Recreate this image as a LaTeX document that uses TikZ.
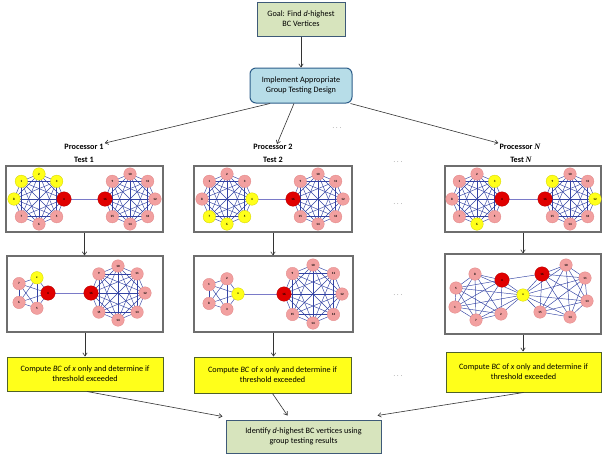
\documentclass[tikz,border=0pt]{standalone}
\usepackage{fontspec}
\setmainfont{Carlito}
\newfontfamily\serifn{Liberation Serif}
\usetikzlibrary{arrows.meta}
\pgfdeclarelayer{bg}
\pgfsetlayers{bg,main}
\definecolor{pinkn}{HTML}{F2A0A0}
\definecolor{pinkb}{HTML}{E08585}
\definecolor{yelln}{HTML}{FFFF1A}
\definecolor{yellb}{HTML}{D0D000}
\definecolor{redn}{HTML}{E00000}
\definecolor{redb}{HTML}{B00000}
\definecolor{edgec}{HTML}{3343A3}
\definecolor{bridgec}{HTML}{7A7AC8}
\definecolor{gfill}{HTML}{D7E4BD}
\definecolor{gbord}{HTML}{3E5A78}
\definecolor{bfill}{HTML}{B7DDE8}
\definecolor{bbord}{HTML}{2E5E8A}
\definecolor{ybord}{HTML}{4F6228}
\definecolor{framec}{HTML}{6E6E6E}
\newcommand\octgraph[5]{%
  \foreach \i/\l/\a/\s in {#5} \path (#2,#3) ++(-\a:#4) node[\s] (#1\i) {\l};}
\newcommand\mkclique[2]{%
  \begin{pgfonlayer}{bg}
  \foreach \i in {1,...,#2}{\foreach \j in {1,...,#2}{\ifnum\i<\j \draw[ed] (#1\i.center) -- (#1\j.center);\fi}}
  \end{pgfonlayer}}
\tikzset{
  vtx/.style={circle,inner sep=0pt,minimum size=12.5pt,font=\fontsize{3.2}{3.2}\selectfont\bfseries,line width=0.3pt},
  pk/.style={vtx,fill=pinkn,draw=pinkb},
  yl/.style={vtx,fill=yelln,draw=yellb},
  rd/.style={vtx,fill=redn,draw=redb,minimum size=14.5pt},
  ed/.style={edgec,line width=0.45pt},
  bridge/.style={bridgec,line width=0.7pt},
  txt/.style={font=\fontsize{8.2}{10}\selectfont,align=center,inner sep=0pt},
  gbox/.style={txt,draw=gbord,fill=gfill,line width=1pt},
  ybox/.style={txt,draw=ybord,fill=yelln,line width=1pt},
  frm/.style={draw=framec,line width=1.1pt,inner sep=0pt},
  lab/.style={font=\fontsize{8.2}{10}\selectfont\bfseries,inner sep=1pt},
  dots/.style={font=\fontsize{6}{6}\selectfont,text=black!60,inner sep=0pt},
  arr/.style={-{Straight Barb[length=3.2pt,width=4.5pt]},line width=0.6pt,draw=black!80},
}
\begin{document}
\begin{tikzpicture}[x=1pt,y=-1pt]
\useasboundingbox (0,0) rectangle (602,459);
% top boxes
\node[gbox,minimum width=88pt,minimum height=34pt] (goal) at (301,19) {Goal: Find \textit{d}-highest\\BC Vertices};
\node[txt,draw=bbord,fill=bfill,line width=1pt,rounded corners=6pt,minimum width=102pt,minimum height=35pt] (impl) at (301,85.5) {Implement Appropriate\\Group Testing Design};
\draw[arr] (goal.south) -- (impl.north);
% processor labels
\node[lab] (p1) at (84,147) {Processor 1};
\node[lab] (t1) at (84,160) {Test 1};
\node[lab] (p2) at (273,147) {Processor 2};
\node[lab] (t2) at (273,160) {Test 2};
\node[lab] (pN) at (520,147) {Processor {\serifn\itshape N}};
\node[lab] (tN) at (521,160) {Test {\serifn\itshape N}};
\draw[arr] ([xshift=-31pt]impl.south) -- (p1.north east);
\draw[arr] ([xshift=-7pt]impl.south) -- ([xshift=4pt,yshift=-1pt]p2.north);
\draw[arr] ([xshift=-2pt]impl.south east) -- (pN.north west);
% dots
\node[dots] (d0) at (337,128) {.\,\,.\,\,.};
\node[dots] (d1) at (398,162) {.\,\,.\,\,.};
\node[dots] (d2) at (398,204) {.\,\,.\,\,.};
\node[dots] (d3) at (398,295) {.\,\,.\,\,.};
\node[dots] (d4) at (398,376) {.\,\,.\,\,.};
% frames
\node[frm,minimum width=157pt,minimum height=66pt] (f11) at (84.5,199) {};
\node[frm,minimum width=158pt,minimum height=66pt] (f12) at (273,199) {};
\node[frm,minimum width=156pt,minimum height=66pt] (f13) at (523,199) {};
\node[frm,minimum width=156pt,minimum height=76pt] (f21) at (85,294) {};
\node[frm,minimum width=159pt,minimum height=76pt] (f22) at (273.5,294) {};
\node[frm,minimum width=156pt,minimum height=80pt] (f23) at (523,294) {};
% yellow boxes
\node[ybox,minimum width=156pt,minimum height=34pt] (y1) at (85,374) {Compute \textit{BC} of \textit{x} only and determine if\\threshold exceeded};
\node[ybox,minimum width=157pt,minimum height=36pt] (y2) at (272.5,375) {Compute \textit{BC} of \textit{x} only and determine if\\threshold exceeded};
\node[ybox,minimum width=155pt,minimum height=40pt] (y3) at (523.5,372) {Compute \textit{BC} of \textit{x} only and determine if\\threshold exceeded};
\node[gbox,minimum width=155pt,minimum height=33pt] (fin) at (303.5,436.5) {Identify \textit{d}-highest BC vertices using\\group testing results};
% vertical arrows
\draw[arr] (f11.south) -- (f11.south |- f21.north);
\draw[arr] (f12.south) -- (f12.south |- f22.north);
\draw[arr] (f13.south) -- (f13.south |- f23.north);
\draw[arr] (f21.south) -- (f21.south |- y1.north);
\draw[arr] (f22.south) -- (f22.south |- y2.north);
\draw[arr] (f23.south) -- (f23.south |- y3.north);
\draw[arr] ([xshift=2pt]y1.south) -- ([xshift=-3pt,yshift=3pt]fin.north west);
\draw[arr] (y2.south) -- ([xshift=-16pt,yshift=4pt]fin.north);
\draw[arr] (y3.south) -- ([xshift=-4pt,yshift=4pt]fin.north east);
% ---------- graphs row 1 ----------
\octgraph{Aa}{39}{199}{25}{1/1/135/yl,2/2/90/yl,3/3/45/yl,4/4/0/rd,5/5/315/pk,6/6/270/pk,7/7/225/pk,8/8/180/yl}
\octgraph{Ab}{130}{199}{25}{1/9/135/pk,2/10/90/pk,3/11/45/pk,4/12/0/pk,5/13/315/pk,6/14/270/pk,7/15/225/pk,8/16/180/rd}
\mkclique{Aa}{8}\mkclique{Ab}{8}
\begin{pgfonlayer}{bg}\draw[bridge] (Aa4.center) -- (Ab8.center);\end{pgfonlayer}
\octgraph{Ba}{227}{199}{25}{1/1/135/pk,2/2/90/pk,3/3/45/pk,4/4/0/yl,5/5/315/yl,6/6/270/yl,7/7/225/yl,8/8/180/pk}
\octgraph{Bb}{318}{199}{25}{1/9/135/pk,2/10/90/pk,3/11/45/pk,4/12/0/pk,5/13/315/pk,6/14/270/pk,7/15/225/pk,8/16/180/rd}
\mkclique{Ba}{8}\mkclique{Bb}{8}
\begin{pgfonlayer}{bg}\draw[bridge] (Ba4.center) -- (Bb8.center);\end{pgfonlayer}
\octgraph{Ca}{477}{199}{25}{1/1/135/pk,2/2/90/pk,3/3/45/yl,4/4/0/rd,5/5/315/pk,6/6/270/yl,7/7/225/pk,8/8/180/pk}
\octgraph{Cb}{570}{199}{25}{1/9/135/yl,2/10/90/pk,3/11/45/pk,4/12/0/yl,5/13/315/pk,6/14/270/pk,7/15/225/pk,8/16/180/rd}
\mkclique{Ca}{8}\mkclique{Cb}{8}
\begin{pgfonlayer}{bg}\draw[bridge] (Ca4.center) -- (Cb8.center);\end{pgfonlayer}
% ---------- graphs row 2 ----------
\octgraph{Da}{32}{293}{16}{1/x/72/yl,2/7/144/pk,3/6/216/pk,4/5/288/pk,5/4/0/rd}
\octgraph{Db}{118}{293}{27}{1/9/135/pk,2/10/90/pk,3/11/45/pk,4/12/0/pk,5/13/315/pk,6/14/270/pk,7/15/225/pk,8/16/180/rd}
\mkclique{Da}{5}\mkclique{Db}{8}
\begin{pgfonlayer}{bg}\draw[bridge] (Da5.center) -- (Db8.center);\end{pgfonlayer}
\octgraph{Ea}{222}{294}{16}{1/x/0/yl,2/2/72/pk,3/1/144/pk,4/8/216/pk,5/3/288/pk}
\octgraph{Eb}{313}{294}{29}{1/9/135/pk,2/10/90/pk,3/11/45/pk,4/12/0/pk,5/13/315/pk,6/14/270/pk,7/15/225/pk,8/16/180/rd}
\mkclique{Ea}{5}\mkclique{Eb}{8}
\begin{pgfonlayer}{bg}\draw[bridge] (Ea1.center) -- (Eb8.center);\end{pgfonlayer}
% test N row 2
\node[pk] (Fa1) at (475,274) {8};
\node[pk] (Fa2) at (456,288) {5};
\node[pk] (Fa3) at (455,307) {1};
\node[pk] (Fa4) at (476,320) {7};
\node[pk] (Fa5) at (501,314) {2};
\node[rd] (Fa6) at (502,280) {4};
\node[yl] (Fa7) at (523,295) {x};
\node[rd] (Fb1) at (542,274) {16};
\node[pk] (Fb2) at (566,265) {10};
\node[pk] (Fb3) at (585,278) {11};
\node[pk] (Fb4) at (587,301) {13};
\node[pk] (Fb5) at (570,317) {14};
\node[pk] (Fb6) at (540,312) {15};
\coordinate (Fb7) at (Fa7.center);
\mkclique{Fa}{7}\mkclique{Fb}{7}
\begin{pgfonlayer}{bg}\draw[ed] (Fa6.center) -- (Fb1.center);\end{pgfonlayer}
\end{tikzpicture}
\end{document}
